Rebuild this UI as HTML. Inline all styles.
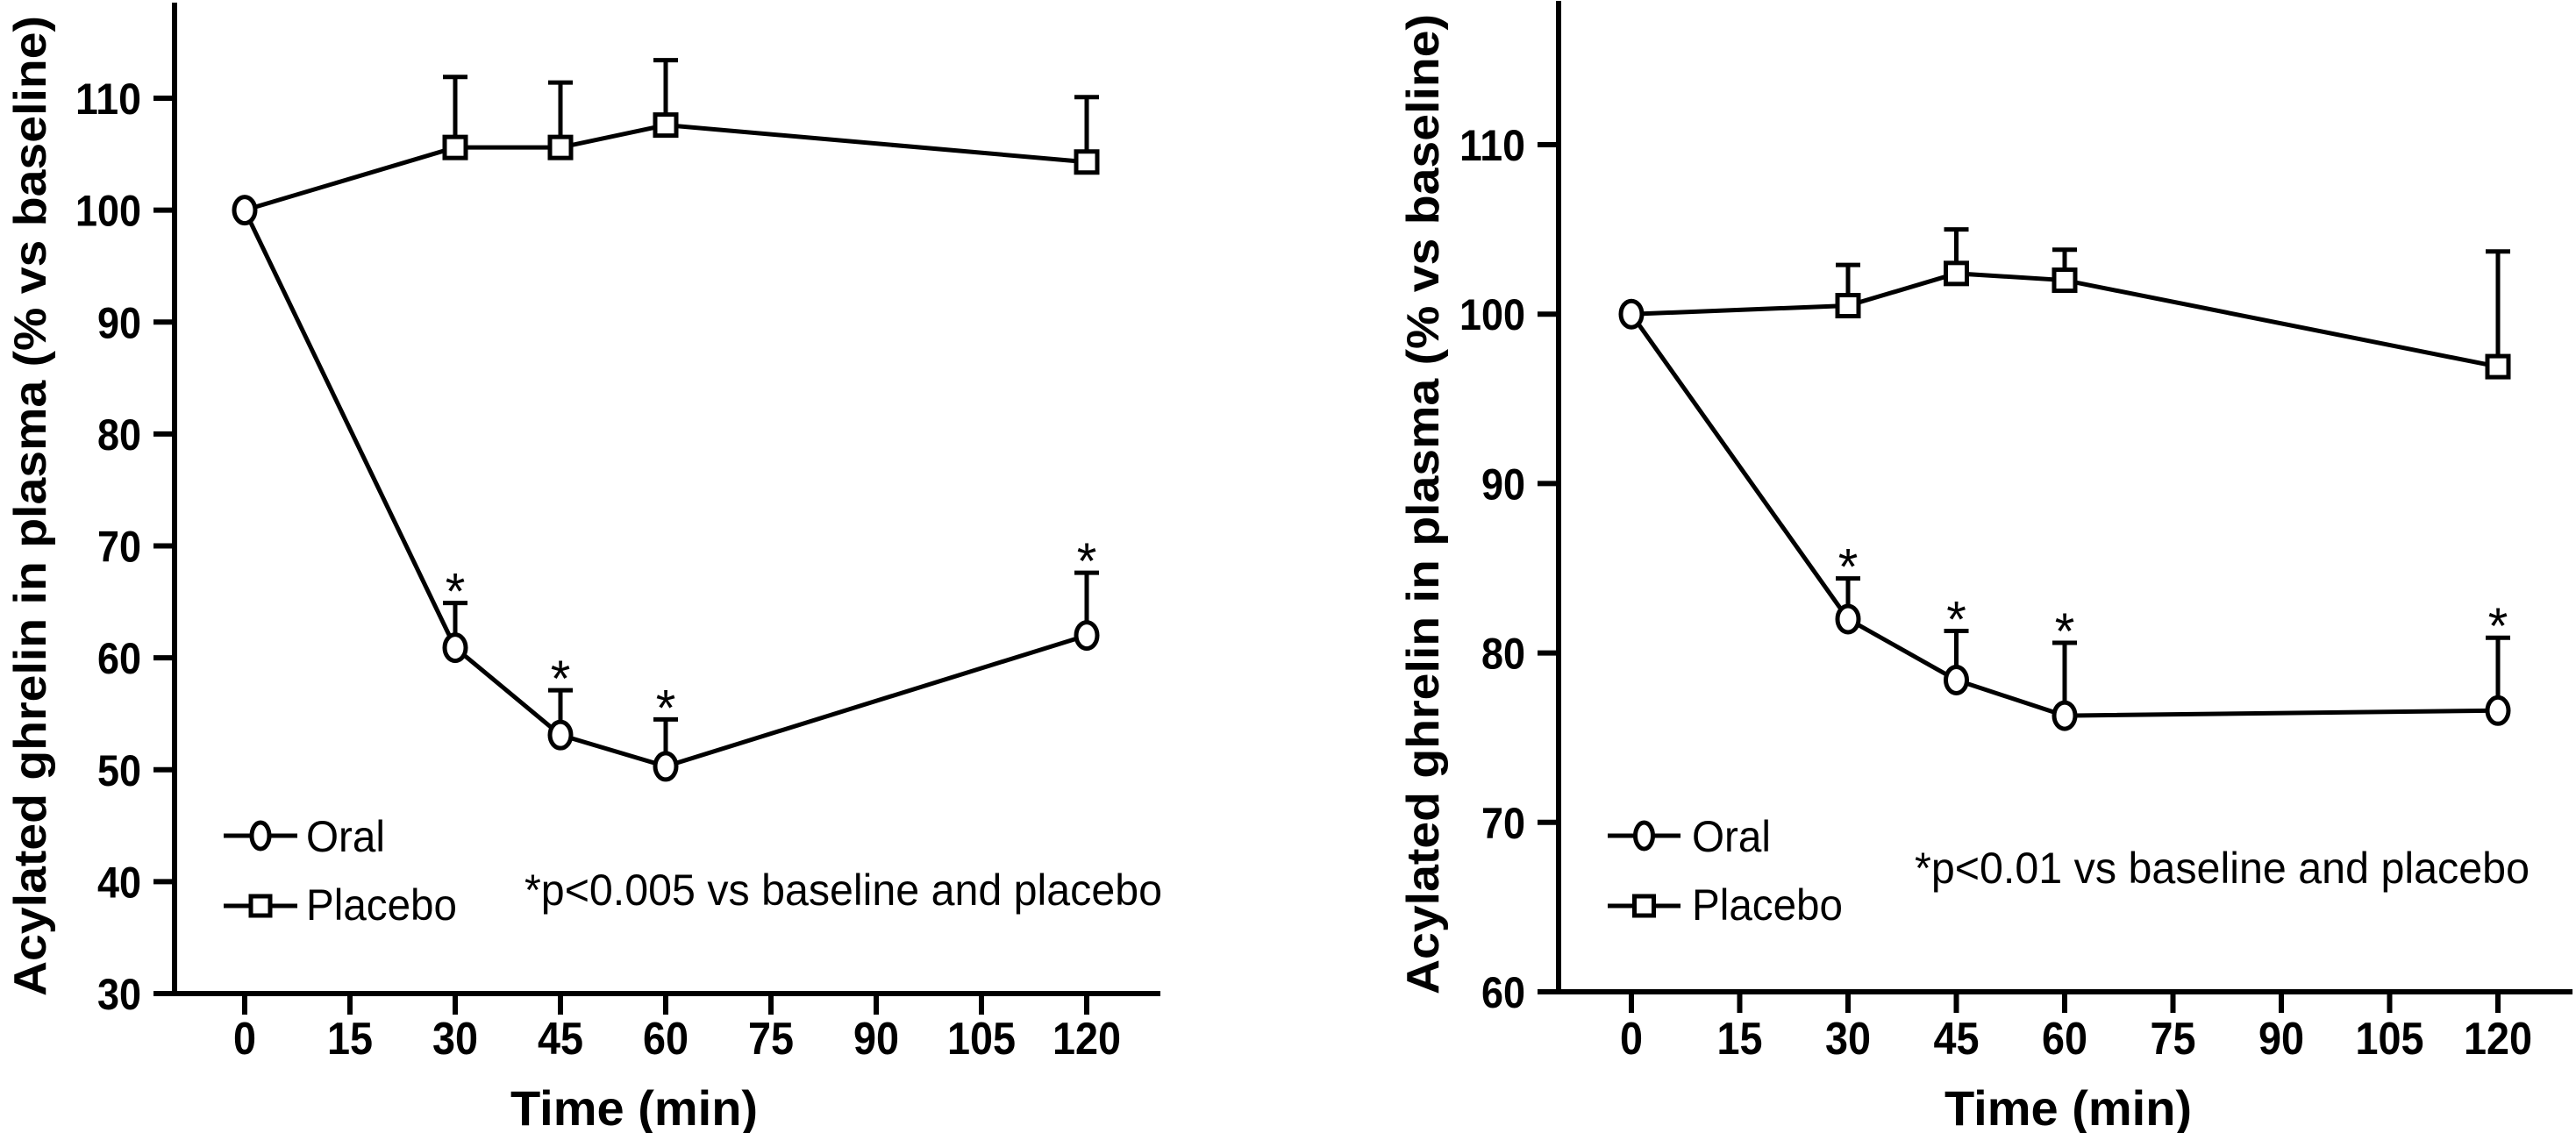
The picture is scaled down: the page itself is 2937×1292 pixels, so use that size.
<!DOCTYPE html>
<html><head><meta charset="utf-8">
<style>
html,body{margin:0;padding:0;background:#fff;}
svg{display:block;}
text{font-family:"Liberation Sans",Arial,sans-serif;fill:#000;}
</style></head>
<body>
<svg id="fig" width="2937" height="1292" viewBox="0 0 2937 1292" xmlns="http://www.w3.org/2000/svg"></svg>
<script>
// ---- data ----
const times = [0, 30, 45, 60, 120];
const xTicks = [0, 15, 30, 45, 60, 75, 90, 105, 120];
const leftYTicks = [30, 40, 50, 60, 70, 80, 90, 100, 110];
const rightYTicks = [60, 70, 80, 90, 100, 110];
const leftOral = [100, 60.9, 53.1, 50.3, 62.0];
const leftOralErr = [null, 64.9, 57.1, 54.5, 67.6];
const leftPlacebo = [100, 105.6, 105.6, 107.6, 104.3];
const leftPlaceboErr = [null, 111.9, 111.4, 113.4, 110.1];
const rightOral = [100, 82.0, 78.4, 76.3, 76.6];
const rightOralErr = [null, 84.4, 81.3, 80.6, 80.9];
const rightPlacebo = [100, 100.5, 102.4, 102.0, 96.9];
const rightPlaceboErr = [null, 102.9, 105.0, 103.8, 103.7];
const leftStars = [false, true, true, true, true];
const rightStars = [false, true, true, true, true];

const NS = "http://www.w3.org/2000/svg";
const svg = document.getElementById('fig');
function mk(tag, attrs, parent) {
  const e = document.createElementNS(NS, tag);
  for (const k in attrs) e.setAttribute(k, attrs[k]);
  (parent || svg).appendChild(e);
  return e;
}

function drawChart(cfg) {
  const g = mk('g', {});
  
  
  const xs = v => cfg.x0 + (v - 0) * (cfg.x120 - cfg.x0) / 120;
  const ys = v => cfg.yTopPx + (cfg.yTopVal - v) * (cfg.yBotPx - cfg.yTopPx) / (cfg.yTopVal - cfg.yBotVal);

  const ya = mk('line', {x1: cfg.axisX, y1: cfg.axisTop, x2: cfg.axisX, y2: cfg.yBotPx + 3, stroke: '#000', 'stroke-width': 6}, g);
  
  
  const xa = mk('line', {x1: cfg.axisX - 3, y1: cfg.yBotPx, x2: cfg.axisEnd, y2: cfg.yBotPx, stroke: '#000', 'stroke-width': 6}, g);
  
  

  cfg.yTicks.forEach(v => {
    const t = mk('line', {x1: cfg.axisX - 24, y1: ys(v), x2: cfg.axisX, y2: ys(v), stroke: '#000', 'stroke-width': 6}, g);
    
    
    const s = String(v);
    const l = mk('text', {x: cfg.axisX - 38, y: ys(v) + 18, 'text-anchor': 'end', 'font-size': 50, 'font-weight': 'bold',
      textLength: s.length * 25, lengthAdjust: 'spacingAndGlyphs'}, g);
    l.textContent = v;
    
    
  });
  xTicks.forEach(v => {
    const t = mk('line', {x1: xs(v), y1: cfg.yBotPx, x2: xs(v), y2: cfg.yBotPx + 24, stroke: '#000', 'stroke-width': 6}, g);
    
    
    const s = String(v);
    const l = mk('text', {x: xs(v), y: 1202, 'text-anchor': 'middle', 'font-size': 52, 'font-weight': 'bold',
      textLength: s.length * 26, lengthAdjust: 'spacingAndGlyphs'}, g);
    l.textContent = v;
    
    
  });

  const xt = mk('text', {x: cfg.xTitleX, y: 1283, 'text-anchor': 'middle', 'font-size': 56, 'font-weight': 'bold'}, g);
  xt.textContent = 'Time (min)';
  
  
  const yt = mk('text', {x: 0, y: 0, 'text-anchor': 'middle', 'font-size': 52, 'font-weight': 'bold',
    textLength: 1118, lengthAdjust: 'spacingAndGlyphs',
    transform: `translate(${cfg.yTitleX},${cfg.yTitleY}) rotate(-90)`}, g);
  yt.textContent = 'Acylated ghrelin in plasma (% vs baseline)';
  
  

  function series(vals, errs, kind, name) {
    const sg = mk('g', {}, g);
    
    
    errs.forEach((e, i) => {
      if (e == null) return;
      const x = xs(times[i]);
      const v = mk('line', {x1: x, y1: ys(vals[i]), x2: x, y2: ys(e), stroke: '#000', 'stroke-width': 5}, sg);
      
      
      const c = mk('line', {x1: x - 14, y1: ys(e), x2: x + 14, y2: ys(e), stroke: '#000', 'stroke-width': 5}, sg);
      
      
    });
    const pts = vals.map((v, i) => xs(times[i]) + ',' + ys(v)).join(' ');
    const pl = mk('polyline', {points: pts, fill: 'none', stroke: '#000', 'stroke-width': 5}, sg);
    
    
    vals.forEach((v, i) => {
      if (kind === 'sq' && i === 0) return;
      const x = xs(times[i]), y = ys(v);
      let m;
      if (kind === 'circ') m = mk('ellipse', {cx: x, cy: y, rx: 12, ry: 15, fill: '#fff', stroke: '#000', 'stroke-width': 5}, sg);
      else m = mk('rect', {x: x - 12, y: y - 12, width: 24, height: 24, fill: '#fff', stroke: '#000', 'stroke-width': 5}, sg);
      
      
    });
  }
  series(cfg.placebo, cfg.placeboErr, 'sq', 'placebo-series');
  series(cfg.oral, cfg.oralErr, 'circ', 'oral-series');

  cfg.stars.forEach((s, i) => {
    if (!s) return;
    const st = mk('text', {x: xs(times[i]), y: ys(cfg.oralErr[i]) + 7, 'text-anchor': 'middle', 'font-size': 58}, g);
    st.textContent = '*';
    
    
  });

  const lg = mk('g', {}, g);
  
  
  const L = cfg.legend;
  mk('line', {x1: L.x1, y1: L.oy, x2: L.x2, y2: L.oy, stroke: '#000', 'stroke-width': 5}, lg);
  const le = mk('ellipse', {cx: (L.x1 + L.x2) / 2, cy: L.oy, rx: 10, ry: 15, fill: '#fff', stroke: '#000', 'stroke-width': 5}, lg);
  
  
  const lo = mk('text', {x: L.tx, y: L.oy + 18, 'font-size': 50, textLength: 90, lengthAdjust: 'spacingAndGlyphs'}, lg);
  lo.textContent = 'Oral';
  
  
  mk('line', {x1: L.x1, y1: L.py, x2: L.x2, y2: L.py, stroke: '#000', 'stroke-width': 5}, lg);
  const lr = mk('rect', {x: (L.x1 + L.x2) / 2 - 11, y: L.py - 11, width: 22, height: 22, fill: '#fff', stroke: '#000', 'stroke-width': 5}, lg);
  
  
  const lp = mk('text', {x: L.tx, y: L.py + 16, 'font-size': 50, textLength: 172, lengthAdjust: 'spacingAndGlyphs'}, lg);
  lp.textContent = 'Placebo';
  
  

  const an = mk('text', {x: cfg.note.x, y: cfg.note.y, 'font-size': 50, textLength: cfg.note.w, lengthAdjust: 'spacingAndGlyphs'}, g);
  an.textContent = cfg.note.text;
  
  
}

drawChart({
  name: 'left-chart', axisX: 199, axisTop: 3, axisEnd: 1323,
  x0: 279, x120: 1239, yTopVal: 110, yTopPx: 112, yBotVal: 30, yBotPx: 1133,
  yTicks: leftYTicks, oral: leftOral, oralErr: leftOralErr, placebo: leftPlacebo, placeboErr: leftPlaceboErr,
  stars: leftStars, xTitleX: 723, yTitleX: 52, yTitleY: 577,
  legend: {x1: 255, x2: 339, tx: 349, oy: 953, py: 1033},
  note: {x: 598, y: 1032, w: 727, text: '*p<0.005 vs baseline and placebo'}
});
drawChart({
  name: 'right-chart', axisX: 1777, axisTop: 1, axisEnd: 2933,
  x0: 1860, x120: 2848, yTopVal: 110, yTopPx: 165, yBotVal: 60, yBotPx: 1131,
  yTicks: rightYTicks, oral: rightOral, oralErr: rightOralErr, placebo: rightPlacebo, placeboErr: rightPlaceboErr,
  stars: rightStars, xTitleX: 2358, yTitleX: 1640, yTitleY: 575,
  legend: {x1: 1833, x2: 1916, tx: 1929, oy: 953, py: 1033},
  note: {x: 2183, y: 1007, w: 701, text: '*p<0.01 vs baseline and placebo'}
});
</script>
</body></html>
